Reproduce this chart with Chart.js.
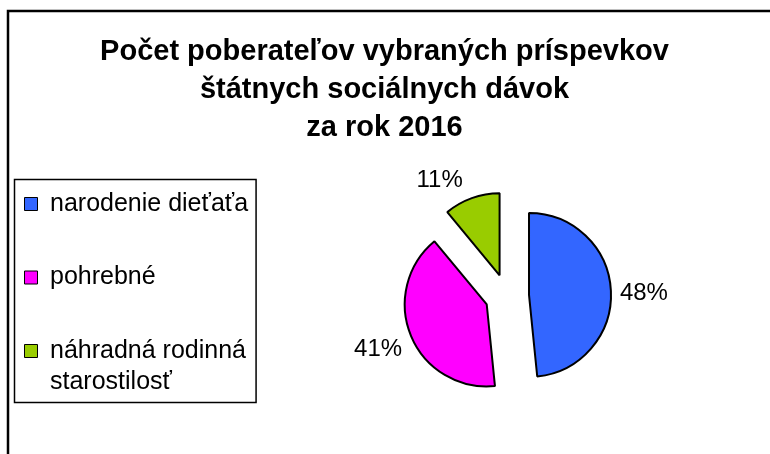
<!DOCTYPE html>
<html>
<head>
<meta charset="utf-8">
<script src="https://cdn.jsdelivr.net/npm/chart.js@4.4.1/dist/chart.umd.min.js"></script>
<style>
  html, body { margin: 0; padding: 0; background: #fff; }
  canvas { display: block; }
</style>
</head>
<body>
<canvas id="pieChart" width="770" height="454"></canvas>
<script>
// Data
const titleLines = ['Počet poberateľov vybraných príspevkov', 'štátnych sociálnych dávok', 'za rok 2016'];
const categories = [['narodenie dieťaťa'], ['pohrebné'], ['náhradná rodinná', 'starostilosť']];
const shares = [48.4, 40.6, 11.0];
const sliceColors = ['#3366FF', '#FF00FF', '#99CC00'];

const fontFamily = "'Liberation Sans', Arial, sans-serif";

// Ramik okolo celeho grafu
const framePlugin = {
    id: 'frame',
    beforeDraw(chart) {
        const ctx = chart.ctx;
        ctx.save();
        ctx.fillStyle = '#fff';
        ctx.fillRect(0, 0, chart.width, chart.height);
        ctx.strokeStyle = '#000';
        ctx.lineWidth = 2.5;
        ctx.strokeRect(8, 11, chart.width + 20, chart.height + 20);
        ctx.restore();
    }
};

// Vysunutie vysekov od stredu
const explodePlugin = {
    id: 'explode',
    afterDatasetsUpdate(chart) {
        const meta = chart.getDatasetMeta(0);
        meta.data.forEach(arc => {
            const mid = (arc.startAngle + arc.endAngle) / 2;
            arc.x += Math.cos(mid) * 22;
            arc.y += Math.sin(mid) * 22;
        });
    }
};

// Percenta pri vysekoch (mimo okraja, ako v Exceli)
const percentPlugin = {
    id: 'percent',
    afterDatasetsDraw(chart) {
        const ctx = chart.ctx;
        const meta = chart.getDatasetMeta(0);
        const values = chart.data.datasets[0].data;
        const total = values.reduce((a, b) => a + b, 0);
        ctx.save();
        ctx.font = '24px ' + fontFamily;
        ctx.fillStyle = '#000';
        ctx.textAlign = 'center';
        ctx.textBaseline = 'middle';
        meta.data.forEach((arc, i) => {
            const text = Math.round(values[i] / total * 100) + '%';
            const w = ctx.measureText(text).width;
            const mid = (arc.startAngle + arc.endAngle) / 2;
            const ox = arc.x + Math.cos(mid) * arc.outerRadius;
            const oy = arc.y + Math.sin(mid) * arc.outerRadius;
            const x = ox + Math.sign(Math.cos(mid)) * (w / 2 + 9);
            const y = oy + Math.sin(mid) * 23 + 4;
            ctx.fillText(text, x, y);
        });
        ctx.restore();
    }
};

// Ramik okolo legendy
const legendBoxPlugin = {
    id: 'legendBox',
    afterDraw(chart) {
        const boxes = chart.legend.legendHitBoxes;
        if (!boxes || !boxes.length) return;
        let left = Infinity, top = Infinity, right = -Infinity, bottom = -Infinity;
        boxes.forEach(b => {
            left = Math.min(left, b.left);
            top = Math.min(top, b.top);
            right = Math.max(right, b.left + b.width);
            bottom = Math.max(bottom, b.top + b.height);
        });
        const ctx = chart.ctx;
        ctx.save();
        ctx.strokeStyle = '#000';
        ctx.lineWidth = 1.5;
        ctx.strokeRect(left - 10, top - 12, right - left + 18, bottom - top + 14);
        ctx.restore();
    }
};

const chart = new Chart(document.getElementById('pieChart').getContext('2d'), {
    type: 'pie',
    data: {
        labels: categories,
        datasets: [{
            data: shares,
            backgroundColor: sliceColors,
            borderColor: '#000',
            borderWidth: 2,
            radius: 82
        }]
    },
    options: {
        responsive: false,
        animation: false,
        devicePixelRatio: 1,
        layout: { padding: { top: 0, left: 13, right: 14, bottom: 27 } },
        plugins: {
            title: {
                display: true,
                text: titleLines,
                color: '#000',
                font: { family: fontFamily, size: 29, weight: 'bold', lineHeight: '38px' },
                padding: { top: 33, bottom: 18 }
            },
            legend: {
                position: 'left',
                align: 'center',
                fullSize: false,
                labels: {
                    color: '#000',
                    font: { family: fontFamily, size: 25, lineHeight: '31px' },
                    boxWidth: 13,
                    boxHeight: 13,
                    padding: 11.5,
                    generateLabels(chart) {
                        const ds = chart.data.datasets[0];
                        return chart.data.labels.map((lines, i) => ({
                            text: lines.length < 2 ? lines.concat(['']) : lines,
                            fillStyle: ds.backgroundColor[i],
                            strokeStyle: '#000',
                            lineWidth: 1,
                            hidden: false,
                            index: i
                        }));
                    }
                }
            },
            tooltip: { enabled: false }
        }
    },
    plugins: [framePlugin, explodePlugin, percentPlugin, legendBoxPlugin]
});
</script>
</body>
</html>
